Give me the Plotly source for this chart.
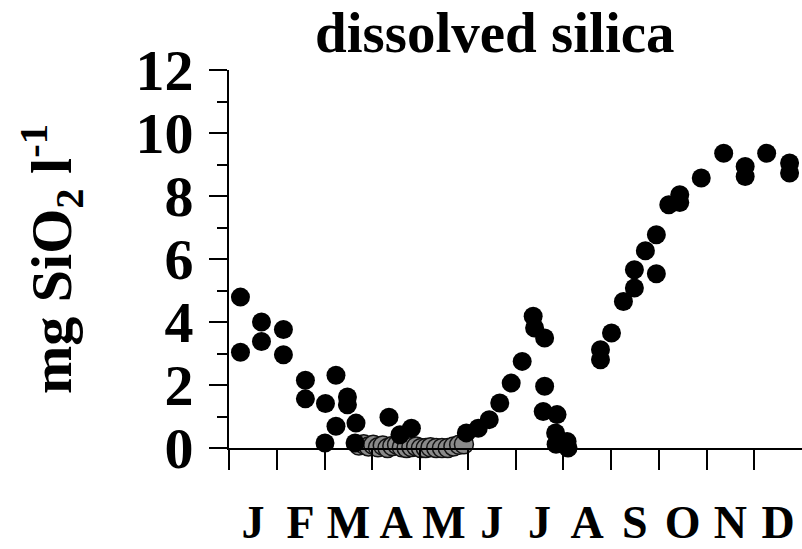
import plotly.graph_objects as go

# ---- data (x in months from 1 Jan, y in mg SiO2 per litre) ----
month_labels = ["J", "F", "M", "A", "M", "J", "J", "A", "S", "O", "N", "D"]
month_centers = [0.5, 1.5, 2.5, 3.5, 4.5, 5.5, 6.5, 7.5, 8.5, 9.5, 10.5, 11.5]
month_starts = [0, 1, 2, 3, 4, 5, 6, 7, 8, 9, 10, 11]

y_major = [0, 2, 4, 6, 8, 10, 12]
y_minor = [1, 3, 5, 7, 9, 11]

black_x = [0.24, 0.24, 0.68, 0.68, 1.14, 1.14, 1.60, 1.60, 2.01, 2.02, 2.24, 2.24,
           2.48, 2.48, 2.66, 2.64, 3.35, 3.58, 3.82, 4.97, 5.22, 5.45, 5.67, 5.91,
           6.14, 6.37, 6.40, 6.61, 6.61, 6.58, 6.87, 6.84, 6.85, 7.08, 7.10,
           7.78, 7.78, 8.01, 8.26, 8.49, 8.49, 8.72, 8.95, 8.95, 9.21, 9.44, 9.44,
           9.89, 10.36, 10.81, 10.81, 11.26, 11.74, 11.74]
black_y = [4.79, 3.04, 4.00, 3.38, 3.76, 2.96, 2.15, 1.56, 0.16, 1.41, 2.31, 0.69,
           1.62, 1.37, 0.79, 0.16, 0.98, 0.42, 0.63, 0.48, 0.63, 0.90, 1.43, 2.06,
           2.75, 4.18, 3.81, 3.49, 1.96, 1.16, 1.06, 0.48, 0.12, 0.21, 0.00,
           2.80, 3.12, 3.65, 4.65, 5.08, 5.66, 6.26, 6.77, 5.53, 7.72, 8.04, 7.79,
           8.57, 9.36, 8.94, 8.62, 9.36, 9.05, 8.73]

grey_x = [2.72, 2.82, 2.92, 3.02, 3.12, 3.22, 3.32, 3.42, 3.52, 3.62, 3.72, 3.82,
          3.92, 4.02, 4.12, 4.22, 4.34, 4.46, 4.58, 4.70, 4.82, 4.92]
grey_y = [0.08, 0.12, 0.05, 0.10, 0.02, 0.08, 0.00, 0.06, 0.10, 0.02, 0.00, 0.03,
          0.05, 0.00, 0.00, 0.02, 0.00, 0.00, 0.00, 0.05, 0.10, 0.12]

SERIF = "Liberation Serif"

fig = go.Figure()
fig.add_trace(go.Scatter(
    x=grey_x, y=grey_y, mode="markers", cliponaxis=False, showlegend=False,
    marker=dict(size=19, color="#8a8a8a", line=dict(color="#111111", width=1.5)),
))
fig.add_trace(go.Scatter(
    x=black_x, y=black_y, mode="markers", cliponaxis=False, showlegend=False,
    marker=dict(size=19, color="black", line=dict(width=0)),
))

fig.update_layout(
    width=802, height=549,
    margin=dict(l=229, r=0, t=70, b=101, autoexpand=False),
    paper_bgcolor="white", plot_bgcolor="white",
    title=dict(text="<b>dissolved silica</b>", x=0.617, xanchor="center",
               y=0.942, yanchor="middle", automargin=False,
               font=dict(family=SERIF, size=57, color="black")),
    xaxis=dict(
        range=[0, 12], showgrid=False, zeroline=False, automargin=False,
        showline=True, linecolor="black", linewidth=2,
        tickmode="array", tickvals=month_centers, ticktext=month_labels,
        ticks="", ticklabelstandoff=33,
        tickfont=dict(family=SERIF, size=46, color="black", weight="bold"),
        minor=dict(tickmode="array", tickvals=month_starts, ticks="outside",
                   ticklen=20, tickwidth=2, tickcolor="black", showgrid=False),
    ),
    yaxis=dict(
        range=[0, 12], showgrid=False, zeroline=False, automargin=False,
        showline=True, linecolor="black", linewidth=2,
        tickmode="array", tickvals=y_major, ticktext=[str(v) for v in y_major],
        ticks="outside", ticklen=18, tickwidth=2, tickcolor="black",
        ticklabelstandoff=4,
        tickfont=dict(family=SERIF, size=58, color="black", weight="bold"),
        minor=dict(tickmode="array", tickvals=y_minor, ticks="outside",
                   ticklen=10, tickwidth=2, tickcolor="black", showgrid=False),
        title=dict(text="<b>mg SiO<sub>2</sub> l<sup>-1</sup></b>", standoff=45,
                   font=dict(family=SERIF, size=58, color="black")),
    ),
)

fig.write_html("out.html")
